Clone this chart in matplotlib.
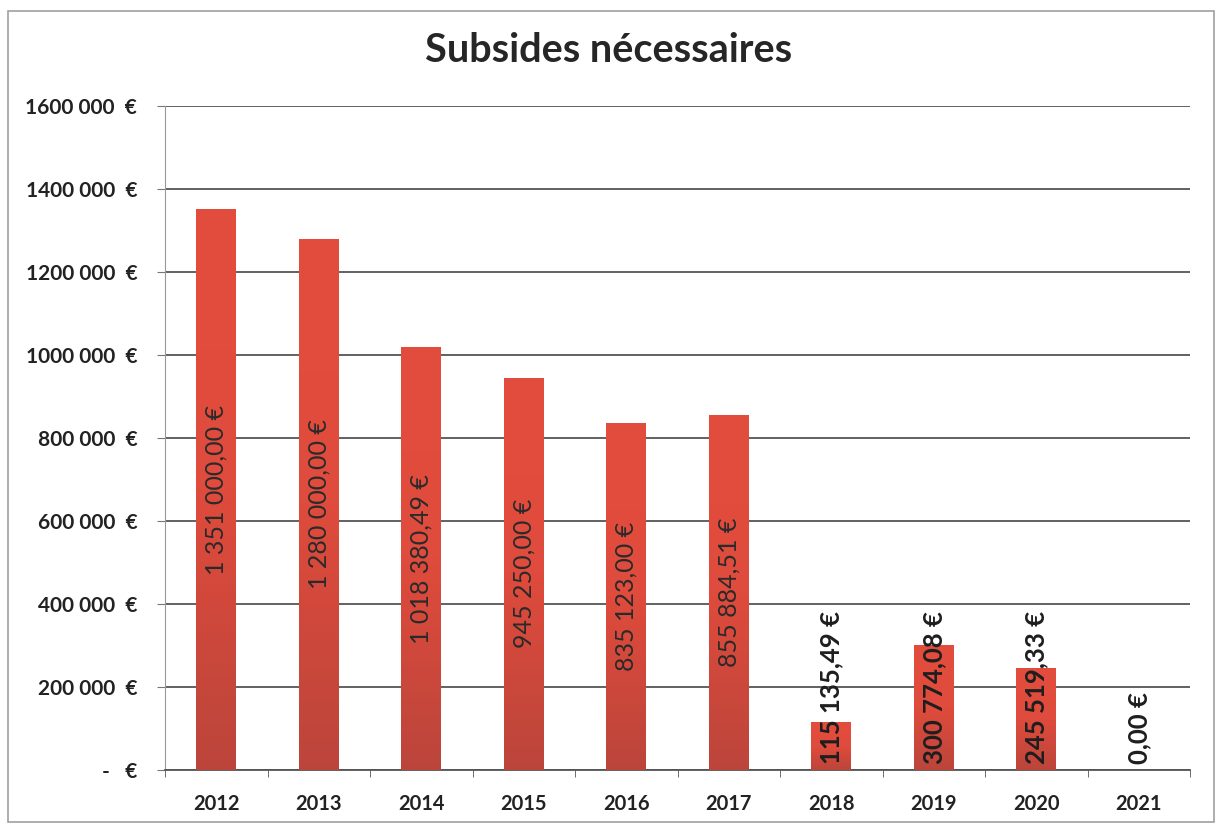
import numpy as np
import matplotlib
matplotlib.use("Agg")
import matplotlib.pyplot as plt
from matplotlib.patches import Rectangle

plt.rcParams['font.family'] = ['Lato', 'DejaVu Sans']

years = ["2012", "2013", "2014", "2015", "2016", "2017", "2018", "2019", "2020", "2021"]
subsides = [1351000.00, 1280000.00, 1018380.49, 945250.00, 835123.00,
            855884.51, 115135.49, 300774.08, 245519.33, 0.00]
y_ticks = [0, 200000, 400000, 600000, 800000, 1000000, 1200000, 1400000, 1600000]
y_tick_labels = ["-   €", "200 000  €", "400 000  €", "600 000  €", "800 000  €",
                 "1000 000  €", "1200 000  €", "1400 000  €", "1600 000  €"]


def euro(v):
    s = f"{v:,.2f}"
    return s.replace(",", " ").replace(".", ",") + " €"


fig = plt.figure(figsize=(12.18, 8.27), dpi=100)
fig.patches.append(Rectangle((8 / 1218, 5 / 827), 1206 / 1218, 811 / 827,
                             transform=fig.transFigure, fill=False,
                             edgecolor="#a0a0a0", lw=1.2))

ax = fig.add_axes([165 / 1218, 1 - 770 / 827, 1025 / 1218, 664 / 827])
x = np.arange(len(years))
bars = ax.bar(x, subsides, width=0.39, color="#d8483a", zorder=3)

# vertical gradient inside each bar: lighter on top, darker at the base
grad = np.linspace(0, 1, 256).reshape(-1, 1)
cmap = matplotlib.colors.LinearSegmentedColormap.from_list("bar", ["#bc453b", "#df4b3c", "#e34d3d"])
for b in bars:
    if b.get_height() <= 0:
        continue
    im = ax.imshow(grad, cmap=cmap, aspect="auto", origin="lower", zorder=3,
                   extent=[b.get_x(), b.get_x() + b.get_width(), 0, b.get_height()])
    im.set_clip_path(b)

ax.set_xlim(-0.5, len(years) - 0.5)
ax.set_ylim(0, 1600000)
ax.set_yticks(y_ticks)
ax.set_yticklabels(y_tick_labels, fontsize=15, fontweight="bold", color="#222222")
ax.set_xticks(x)
ax.set_xticklabels(years, fontsize=14.5, fontweight="bold", color="#222222")
ax.set_xticks(np.arange(-0.5, len(years)), minor=True)
ax.tick_params(axis="x", which="major", length=0, pad=17)
ax.tick_params(axis="x", which="minor", length=5, color="#555555")
ax.tick_params(axis="y", length=6, color="#777777", pad=14)
ax.grid(axis="y", color="#555555", lw=1.3, zorder=1)

for side in ["top", "right"]:
    ax.spines[side].set_visible(False)
ax.spines["left"].set_color("#999999")
ax.spines["bottom"].set_color("#555555")
ax.spines["bottom"].set_linewidth(1.3)

for xi, v in zip(x, subsides):
    if v > 500000:
        ax.text(xi, v / 2, euro(v), rotation=90, ha="center", va="center",
                fontsize=18, color="#2a2a2a", zorder=4)
    else:
        ax.text(xi, 14000, euro(v), rotation=90, ha="center", va="bottom",
                fontsize=18.5, fontweight="bold", color="#1e1e1e", zorder=4)

fig.text(0.5, 1 - 50 / 827, "Subsides nécessaires", ha="center", va="center",
         fontsize=28.5, fontweight="bold", color="#262626")

fig.savefig("out.png", dpi=100)
